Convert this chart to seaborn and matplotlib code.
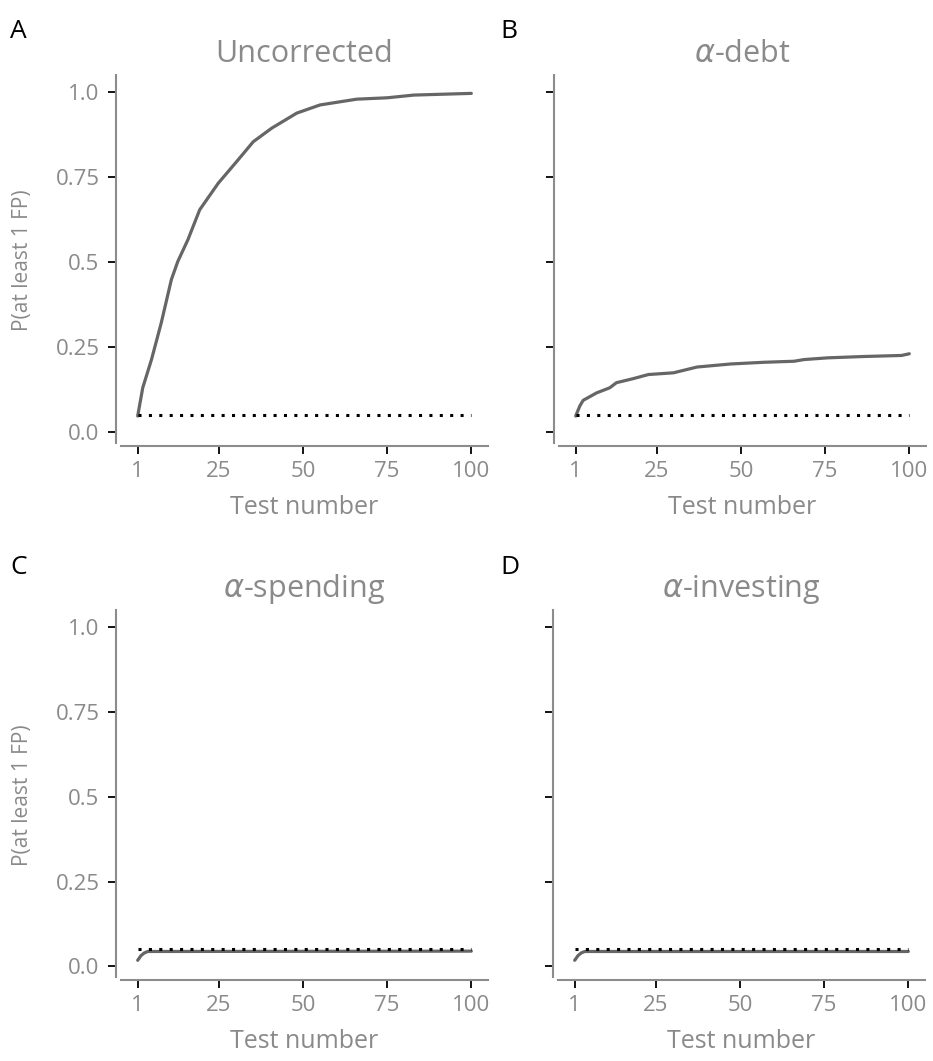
import matplotlib
matplotlib.use("Agg")
import matplotlib.pyplot as plt
import seaborn as sns
import pandas as pd

# ---- data ----
titles = ["Uncorrected", r"$\alpha$-debt", r"$\alpha$-spending", r"$\alpha$-investing"]
letters = ["A", "B", "C", "D"]

unc_x = [1, 2.5, 5.1, 8.0, 11.0, 12.9, 15.9, 19.4, 24.9, 30.4, 35.3, 40.8, 48.2, 55.1, 66.0, 75.0, 82.9, 100]
unc_y = [0.048, 0.131, 0.214, 0.322, 0.449, 0.502, 0.566, 0.654, 0.732, 0.796, 0.854, 0.894, 0.938, 0.962, 0.979, 0.983, 0.991, 0.996]

debt_x = [1, 2.2, 3.2, 7.2, 11.1, 13.1, 18.1, 22.6, 30.0, 37.0, 47.0, 56.9, 65.8, 68.8, 75.8, 86.7, 97.7, 100]
debt_y = [0.048, 0.077, 0.094, 0.116, 0.131, 0.146, 0.158, 0.170, 0.175, 0.192, 0.201, 0.206, 0.209, 0.214, 0.219, 0.223, 0.226, 0.231]

spend_x = [1, 2, 3, 4, 100]
spend_y = [0.018, 0.032, 0.040, 0.044, 0.045]

invest_x = [1, 2, 3, 4, 100]
invest_y = [0.018, 0.032, 0.040, 0.044, 0.044]

alpha_x = [1, 100]
alpha_y = [0.05, 0.05]

xticks = [1, 25, 50, 75, 100]
yticks = [0.0, 0.25, 0.5, 0.75, 1.0]
yticklabels = ["0.0", "0.25", "0.5", "0.75", "1.0"]

series = [(unc_x, unc_y), (debt_x, debt_y), (spend_x, spend_y), (invest_x, invest_y)]

sns.set_theme(style="white")
plt.rcParams["font.family"] = ["Open Sans", "DejaVu Sans"]
plt.rcParams["mathtext.fontset"] = "dejavusans"

W, H = 933, 1061
fig = plt.figure(figsize=(W / 100, H / 100), dpi=100)

# panel rectangles in pixels: (left, top, right, bottom)
rects = [(121, 75, 488, 446), (559, 75, 926, 446),
         (121, 610, 488, 980), (558, 610, 925, 980)]

GRAY_TXT = "#8a8a8a"
SPINE = "#8c8c8c"

for i, (l, t, r, b) in enumerate(rects):
    ax = fig.add_axes([l / W, 1 - b / H, (r - l) / W, (b - t) / H])
    xs, ys = series[i]
    df = pd.DataFrame({"x": xs, "y": ys})
    dfa = pd.DataFrame({"x": alpha_x, "y": alpha_y})
    sns.lineplot(data=df, x="x", y="y", ax=ax, color="#666666", linewidth=2.3)
    sns.lineplot(data=dfa, x="x", y="y", ax=ax, color="black", linewidth=2.2,
                 linestyle=(0, (1, 2.4)))
    ax.set_xlim(1 - 4.95, 100 + 4.95)
    ax.set_ylim(-0.04, 1.05)
    ax.set_xticks(xticks)
    ax.set_xticklabels([str(v) for v in xticks])
    ax.set_yticks(yticks)
    if i % 2 == 0:
        ax.set_yticklabels(yticklabels)
        ax.set_ylabel("P(at least 1 FP)", fontsize=15, color=GRAY_TXT, labelpad=16)
    else:
        ax.set_yticklabels([])
        ax.set_ylabel("")
    ax.set_xlabel("Test number", fontsize=18, color=GRAY_TXT, labelpad=9)
    ax.set_title(titles[i], fontsize=22, color=GRAY_TXT, pad=9)
    for s in ["top", "right"]:
        ax.spines[s].set_visible(False)
    ax.spines["left"].set_position(("outward", 3.5))
    ax.spines["left"].set_bounds(-0.03, 1.05)
    for s in ["left", "bottom"]:
        ax.spines[s].set_color(SPINE)
        ax.spines[s].set_linewidth(1.5)
    ax.tick_params(axis="both", which="major", length=6, width=1.3, color="black",
                   labelcolor=GRAY_TXT, labelsize=16, direction="out",
                   left=True, bottom=True)
    ax.tick_params(axis="y", pad=6)
    ax.tick_params(axis="x", pad=5)
    ax.grid(False)
    lx = 10 if i % 2 == 0 else 500
    ly = 38 if i < 2 else 574
    fig.text(lx / W, 1 - ly / H, letters[i], fontsize=19, color="black",
             ha="left", va="baseline")

fig.savefig("out.png", dpi=100)
